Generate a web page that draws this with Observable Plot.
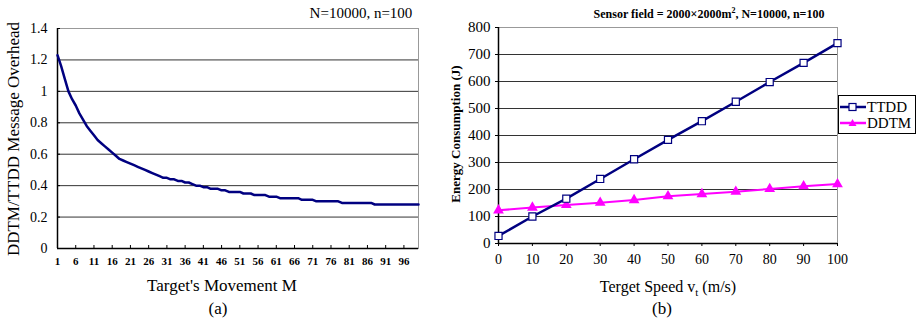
<!DOCTYPE html>
<html><head><meta charset="utf-8">
<script src="https://cdn.jsdelivr.net/npm/d3@7"></script>
<script src="https://cdn.jsdelivr.net/npm/@observablehq/plot@0.6"></script>
<style>
body{margin:0;background:#fff;}
#wrap{position:relative;width:919px;height:325px;overflow:hidden;font-family:"Liberation Serif",serif;color:#000;background:#fff;}
.t{position:absolute;white-space:nowrap;transform:translate(-50%,-50%);line-height:1;}
.r{transform:translate(-50%,-50%) rotate(-90deg);}
#a,#b{position:absolute;top:0;}
#a{left:0;} #b{left:440px;}
#a svg text,#b svg text{font-family:"Liberation Serif",serif !important;}
#legend{position:absolute;left:838px;top:95px;width:76px;height:37px;border:1px solid #000;background:#fff;font-size:15px;font-family:"Liberation Serif",serif;}
#legend div{position:absolute;left:0;height:16px;display:flex;align-items:center;}
#legend svg{display:block;}
</style></head><body>
<div id="wrap">
  <div id="a"></div>
  <div id="b"></div>
  <div class="t" style="left:361px;top:13px;font-size:15px;">N=10000, n=100</div>
  <div class="t r" style="left:13px;top:139px;font-size:17px;">DDTM/TTDD Message Overhead</div>
  <div class="t" style="left:222px;top:285px;font-size:17px;">Target's Movement M</div>
  <div class="t" style="left:218px;top:308px;font-size:17px;">(a)</div>
  <div class="t" style="left:709px;top:14px;font-size:12px;font-weight:bold;">Sensor field = 2000×2000m<sup style="font-size:8px;line-height:0;">2</sup>, N=10000, n=100</div>
  <div class="t r" style="left:455px;top:134px;font-size:13px;font-weight:bold;">Energy Consumption (J)</div>
  <div class="t" style="left:668px;top:287px;font-size:16px;">Terget Speed v<sub style="font-size:11px;line-height:0;">t</sub> (m/s)</div>
  <div class="t" style="left:662px;top:308px;font-size:17px;">(b)</div>
  <div id="legend"></div>
</div>
<script>
// ---- chart (a) data ----
const overhead = [
  1.23,1.16,1.08,1.00,0.95,0.91,0.86,0.82,0.78,0.75,
  0.72,0.69,0.67,0.65,0.63,0.61,0.59,0.57,0.56,0.55,
  0.54,0.53,0.52,0.51,0.50,0.49,0.48,0.47,0.46,0.45,
  0.45,0.44,0.44,0.43,0.43,0.42,0.42,0.41,0.40,0.40,
  0.39,0.39,0.38,0.38,0.38,0.37,0.37,0.36,0.36,0.36,
  0.36,0.35,0.35,0.35,0.34,0.34,0.34,0.34,0.33,0.33,
  0.33,0.32,0.32,0.32,0.32,0.32,0.32,0.31,0.31,0.31,
  0.31,0.30,0.30,0.30,0.30,0.30,0.30,0.30,0.29,0.29,
  0.29,0.29,0.29,0.29,0.29,0.29,0.29,0.28,0.28,0.28,
  0.28,0.28,0.28,0.28,0.28,0.28,0.28,0.28,0.28,0.28
];
const movementTicks = [1,6,11,16,21,26,31,36,41,46,51,56,61,66,71,76,81,86,91,96];
const overheadTicks = [0,0.2,0.4,0.6,0.8,1,1.2,1.4];

// ---- chart (b) data ----
const speed = [0,10,20,30,40,50,60,70,80,90,100];
const ttdd  = [28,100,166,239,312,384,453,525,598,669,742];
const ddtm  = [123,133,143,151,161,175,183,192,202,212,220];
const energyTicks = [0,100,200,300,400,500,600,700,800];
const seriesNames = ["TTDD","DDTM"];
const seriesColors = ["#000080","#ff00ff"];

const font = "Liberation Serif";

const dataA = overhead.map((v,i)=>({m:i+1,v}));
const chartA = Plot.plot({
  width:440,height:300,marginLeft:57,marginRight:22,marginTop:28,marginBottom:52,
  style:{fontFamily:font,background:"white",color:"#000",overflow:"visible"},
  x:{domain:[1,100]},
  y:{domain:[0,1.4]},
  marks:[
    Plot.gridY(overheadTicks,{stroke:"#333",strokeOpacity:1}),
    Plot.frame({stroke:"#999"}),
    Plot.axisY(overheadTicks,{tickFormat:d=>String(d),tickSize:-3,tickPadding:13,fontSize:14,fontFamily:font,label:null}),
    Plot.axisX(movementTicks,{tickSize:-3,tickPadding:12,fontSize:11,fontWeight:"bold",fontFamily:font,label:null}),
    Plot.ruleY([0],{stroke:"#000",strokeWidth:1.5}),
    Plot.ruleX([1],{stroke:"#000",strokeWidth:1.5}),
    Plot.line(dataA,{x:"m",y:"v",stroke:"#000080",strokeWidth:2.5})
  ]
});
document.getElementById("a").append(chartA);

const dataB = [];
speed.forEach((s,i)=>{
  dataB.push({s,v:ttdd[i],k:seriesNames[0]});
  dataB.push({s,v:ddtm[i],k:seriesNames[1]});
});
const chartB = Plot.plot({
  width:479,height:300,marginLeft:58,marginRight:82,marginTop:27,marginBottom:57,
  style:{fontFamily:font,background:"white",color:"#000",overflow:"visible"},
  x:{domain:[0,100]},
  y:{domain:[0,800]},
  color:{domain:seriesNames,range:seriesColors},
  marks:[
    Plot.gridY(energyTicks,{stroke:"#333",strokeOpacity:1}),
    Plot.frame({stroke:"#999"}),
    Plot.axisY(energyTicks,{tickSize:3,tickPadding:5,fontSize:15,fontFamily:font,label:null}),
    Plot.axisX(speed,{tickSize:3,tickPadding:8,fontSize:14,fontFamily:font,label:null}),
    Plot.ruleY([0],{stroke:"#000",strokeWidth:1.5}),
    Plot.ruleX([0],{stroke:"#000",strokeWidth:1.5}),
    Plot.line(dataB.filter(d=>d.k==="DDTM"),{x:"s",y:"v",stroke:"k",strokeWidth:2}),
    Plot.dot(dataB.filter(d=>d.k==="DDTM"),{x:"s",y:"v",fill:"k",symbol:"triangle",r:4}),
    Plot.line(dataB.filter(d=>d.k==="TTDD"),{x:"s",y:"v",stroke:"k",strokeWidth:2.5}),
    Plot.dot(dataB.filter(d=>d.k==="TTDD"),{x:"s",y:"v",stroke:"k",fill:"white",symbol:"square",r:4,strokeWidth:1.2})
  ]
});
document.getElementById("b").append(chartB);

// legend
const legend = document.getElementById("legend");
seriesNames.forEach((name,i)=>{
  const row = document.createElement("div");
  row.style.top = (i===0?3:19)+"px";
  const sym = i===0
    ? `<rect x="10" y="4.5" width="7" height="7" fill="white" stroke="${seriesColors[i]}" stroke-width="1.2"/>`
    : `<path d="M13.5,4L17.5,11L9.5,11Z" fill="${seriesColors[i]}"/>`;
  row.innerHTML = `<svg width="28" height="16"><line x1="1" x2="27" y1="8" y2="8" stroke="${seriesColors[i]}" stroke-width="2.5"/>${sym}</svg><span>${name}</span>`;
  legend.append(row);
});
</script>
</body></html>
